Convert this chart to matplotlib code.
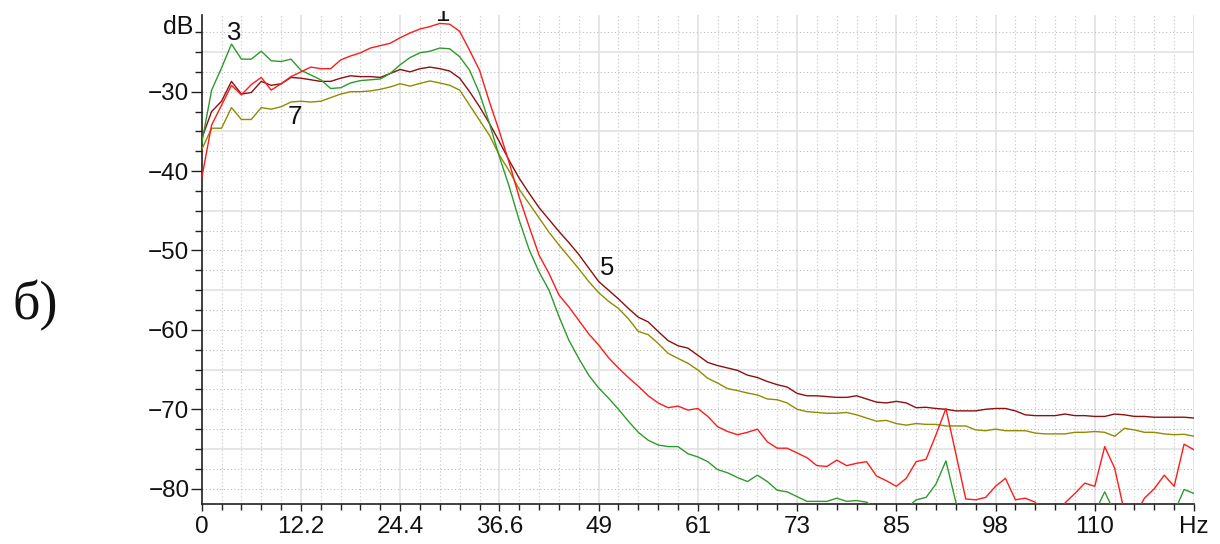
import numpy as np
import matplotlib
matplotlib.use('Agg')
import matplotlib.pyplot as plt
from matplotlib.ticker import FixedLocator, FixedFormatter

# ---------------- data ----------------
freq_step = 1.22  # Hz between samples

curve1_red = [
    -40.9, -34.2, -31.7, -29.2, -30.4, -29.1, -28.2, -29.8, -29.0, -28.1,
    -27.5, -26.9, -27.1, -27.1, -26.0, -25.5, -25.1, -24.5, -24.2, -23.9,
    -23.2, -22.6, -22.1, -21.8, -21.4, -21.5, -22.4, -24.8, -27.3, -31.3,
    -35.0, -39.0, -43.3, -47.0, -50.6, -52.9, -55.6, -57.1, -58.8, -60.5,
    -61.9, -63.5, -64.8, -66.0, -67.1, -68.3, -69.2, -69.8, -69.6, -70.1,
    -69.9, -70.9, -72.2, -72.8, -73.2, -72.9, -72.5, -74.1, -74.9, -74.9,
    -75.5, -76.1, -77.1, -77.2, -76.4, -77.1, -76.8, -76.6, -78.4, -79.0,
    -79.7, -78.7, -76.6, -76.3, -73.2, -69.9, -75.6, -81.3, -81.4, -81.1,
    -79.7, -78.7, -81.4, -81.2, -81.7, -83.5, -84.0, -81.8, -80.6, -79.3,
    -79.7, -74.7, -77.4, -83.0, -83.5, -81.2, -80.0, -78.3, -79.7, -74.4,
    -75.1]

curve3_green = [
    -36.5, -29.8, -27.0, -24.0, -25.9, -25.9, -24.9, -26.1, -26.2, -25.9,
    -27.3, -27.9, -28.5, -29.6, -29.5, -28.9, -28.6, -28.5, -28.4, -27.7,
    -26.6, -25.7, -25.1, -24.9, -24.5, -24.6, -25.6, -27.3, -30.2, -34.0,
    -38.2, -42.0, -46.2, -49.9, -52.7, -55.0, -58.3, -61.3, -63.6, -65.7,
    -67.3, -68.6, -70.0, -71.5, -72.9, -73.9, -74.5, -74.7, -74.7, -75.6,
    -76.0, -76.6, -77.6, -78.0, -78.6, -79.1, -78.3, -79.1, -80.2, -80.4,
    -81.0, -81.6, -81.6, -81.6, -81.2, -81.6, -81.5, -81.7, -82.6, -84.0,
    -84.0, -82.5, -81.4, -81.1, -79.4, -76.5, -81.7, -84.0, -84.0, -84.0,
    -84.0, -84.0, -84.0, -84.0, -84.0, -84.0, -84.0, -84.0, -84.0, -84.0,
    -83.0, -80.4, -83.0, -84.0, -84.0, -84.0, -84.0, -84.0, -83.0, -80.1,
    -80.6]

curve5_maroon = [
    -35.9, -32.5, -31.2, -28.7, -30.3, -30.1, -28.7, -29.2, -29.0, -28.2,
    -28.3, -28.5, -28.7, -28.7, -28.3, -28.0, -28.1, -28.1, -28.2, -27.7,
    -27.2, -27.5, -27.1, -26.9, -27.1, -27.4, -28.3, -30.0, -31.9, -34.0,
    -36.3, -38.7, -40.9, -42.8, -44.6, -46.1, -47.6, -49.0, -50.5, -52.2,
    -53.9, -55.0, -56.1, -57.3, -58.4, -59.0, -60.2, -61.35, -62.0, -62.3,
    -63.2, -64.1, -64.5, -64.8, -65.1, -65.7, -66.0, -66.5, -66.9, -67.2,
    -68.0, -68.3, -68.3, -68.4, -68.5, -68.5, -68.3, -68.7, -69.1, -69.2,
    -69.0, -69.2, -69.8, -69.75, -69.9, -70.0, -70.2, -70.2, -70.2, -70.0,
    -69.9, -69.9, -70.2, -70.7, -70.8, -70.8, -70.8, -70.6, -70.8, -70.8,
    -70.9, -70.9, -70.6, -70.7, -70.9, -70.9, -71.0, -71.0, -71.0, -71.0,
    -71.1]

curve7_olive = [
    -37.3, -34.6, -34.6, -32.0, -33.5, -33.5, -32.0, -32.2, -31.9, -31.3,
    -31.2, -31.3, -31.2, -30.75, -30.3, -30.0, -30.0, -29.9, -29.7, -29.4,
    -29.0, -29.3, -28.95, -28.65, -28.9, -29.2, -29.8, -31.7, -33.6, -35.5,
    -38.0, -40.0, -42.3, -44.1, -45.9, -47.7, -49.3, -50.8, -52.3, -53.9,
    -55.3, -56.4, -57.3, -58.6, -60.2, -60.6, -61.7, -62.95, -63.6, -64.2,
    -65.05, -66.1, -66.7, -67.4, -67.65, -67.95, -68.2, -68.7, -68.8, -69.2,
    -70.0, -70.3, -70.4, -70.5, -70.5, -70.4, -70.7, -71.1, -71.5, -71.4,
    -71.8, -72.0, -71.8, -71.9, -71.9, -72.1, -72.1, -72.1, -72.6, -72.7,
    -72.5, -72.7, -72.7, -72.7, -73.0, -73.1, -73.1, -73.1, -72.9, -72.9,
    -72.8, -72.9, -73.4, -72.4, -72.6, -72.9, -72.9, -73.1, -73.2, -73.15,
    -73.4]

curve_labels = ['1', '3', '5', '7']

xtick_values = [0, 12.2, 24.4, 36.6, 48.8, 61.0, 73.2, 85.4, 97.6, 109.8, 122.0]
xtick_labels = ['0', '12.2', '24.4', '36.6', '49', '61', '73', '85', '98', '110', 'Hz']
ytick_values = [-80, -70, -60, -50, -40, -30]
ytick_labels = ['\u221280', '\u221270', '\u221260', '\u221250', '\u221240', '\u221230']

# ---------------- figure ----------------
plt.rcParams['font.family'] = ['Liberation Sans', 'DejaVu Sans']
W, H = 1220, 544
fig = plt.figure(figsize=(W / 100, H / 100), dpi=100)
fig.patch.set_facecolor('white')

x0, x1, ytop, ybot = 201.7, 1194.0, 15.0, 504.0
ax = fig.add_axes([x0 / W, 1 - ybot / H, (x1 - x0) / W, (ybot - ytop) / H])
ax.set_xlim(0, 122)
ax.set_ylim(-81.93, -20.34)

# grid
for k in range(1, 51):
    xv = k * 2.44
    if k % 5 == 0:
        ax.axvline(xv, color='#e2e2e2', lw=1.2, zorder=0)
    else:
        ax.axvline(xv, color='#c4c4c4', lw=0.8, ls=(0, (1, 2.2)), zorder=0)
for yv in np.arange(-80, -20, 2.5):
    if abs(yv % 10 - 5) < 1e-6:
        ax.axhline(yv, color='#e2e2e2', lw=1.2, zorder=0)
    else:
        ax.axhline(yv, color='#bcbcbc', lw=0.8, ls=(0, (1, 2.2)), zorder=0)

freqs = np.arange(len(curve1_red)) * freq_step
ax.plot(freqs, curve7_olive, color='#8f8c00', lw=1.0, zorder=3)
ax.plot(freqs, curve5_maroon, color='#8b1010', lw=1.0, zorder=3)
ax.plot(freqs, curve3_green, color='#2e9a2e', lw=1.0, zorder=4)
ax.plot(freqs, curve1_red, color='#ff1a1a', lw=1.0, zorder=5)

# spines / ticks
for s in ['top', 'right']:
    ax.spines[s].set_visible(False)
for s in ['left', 'bottom']:
    ax.spines[s].set_color('#202020')
    ax.spines[s].set_linewidth(1.2)

ax.xaxis.set_major_locator(FixedLocator(xtick_values))
ax.xaxis.set_major_formatter(FixedFormatter(xtick_labels))
ax.xaxis.set_minor_locator(FixedLocator(np.arange(0, 123, 2.44)))
ax.yaxis.set_major_locator(FixedLocator(ytick_values))
ax.yaxis.set_major_formatter(FixedFormatter(ytick_labels))
ax.yaxis.set_minor_locator(FixedLocator(np.arange(-80, -20, 2.5)))

ax.tick_params(axis='x', which='major', direction='out', length=5, width=1,
               color='#202020', labelsize=17.5, pad=3.5, labelcolor='#111111')
ax.tick_params(axis='x', which='minor', direction='out', length=4, width=1,
               color='#202020')
ax.tick_params(axis='y', which='major', direction='out', length=8, width=1,
               color='#202020', labelsize=17.5, pad=0.8, labelcolor='#111111')
ax.tick_params(axis='y', which='minor', direction='out', length=5, width=1,
               color='#202020')

# y unit label
fig.text(193 / W, 1 - 27 / H, 'dB', ha='right', va='center', fontsize=18,
         color='#111111')

# curve numbers
ax.text(3.97, -22.6, curve_labels[1], ha='center', va='center', fontsize=18.5, color='#111111')
ax.text(11.5, -33.2, curve_labels[3], ha='center', va='center', fontsize=18.5, color='#111111')
ax.text(49.85, -52.2, curve_labels[2], ha='center', va='center', fontsize=18.5, color='#111111')

# label "1" partly cut off at its top (as in the reference): drawn inside a
# small invisible axes that clips it
r_top, r_bot = 10.5, 22.0
cax = fig.add_axes([430 / W, 1 - r_bot / H, 26 / W, (r_bot - r_top) / H])
cax.set_axis_off()
cax.set_xlim(0, 1)
cax.set_ylim(0, 1)
cax.text(0.5, (r_bot - 21.0) / (r_bot - r_top), curve_labels[0], ha='center',
         va='baseline', fontsize=18.5, color='#111111', clip_on=True,
         transform=cax.transAxes)

# panel label
fig.text(12 / W, 1 - 306 / H, 'б)', ha='left', va='center', fontsize=39,
         family=['Liberation Serif', 'DejaVu Serif'], color='#111111')

fig.savefig('out.png', dpi=100, facecolor='white')
